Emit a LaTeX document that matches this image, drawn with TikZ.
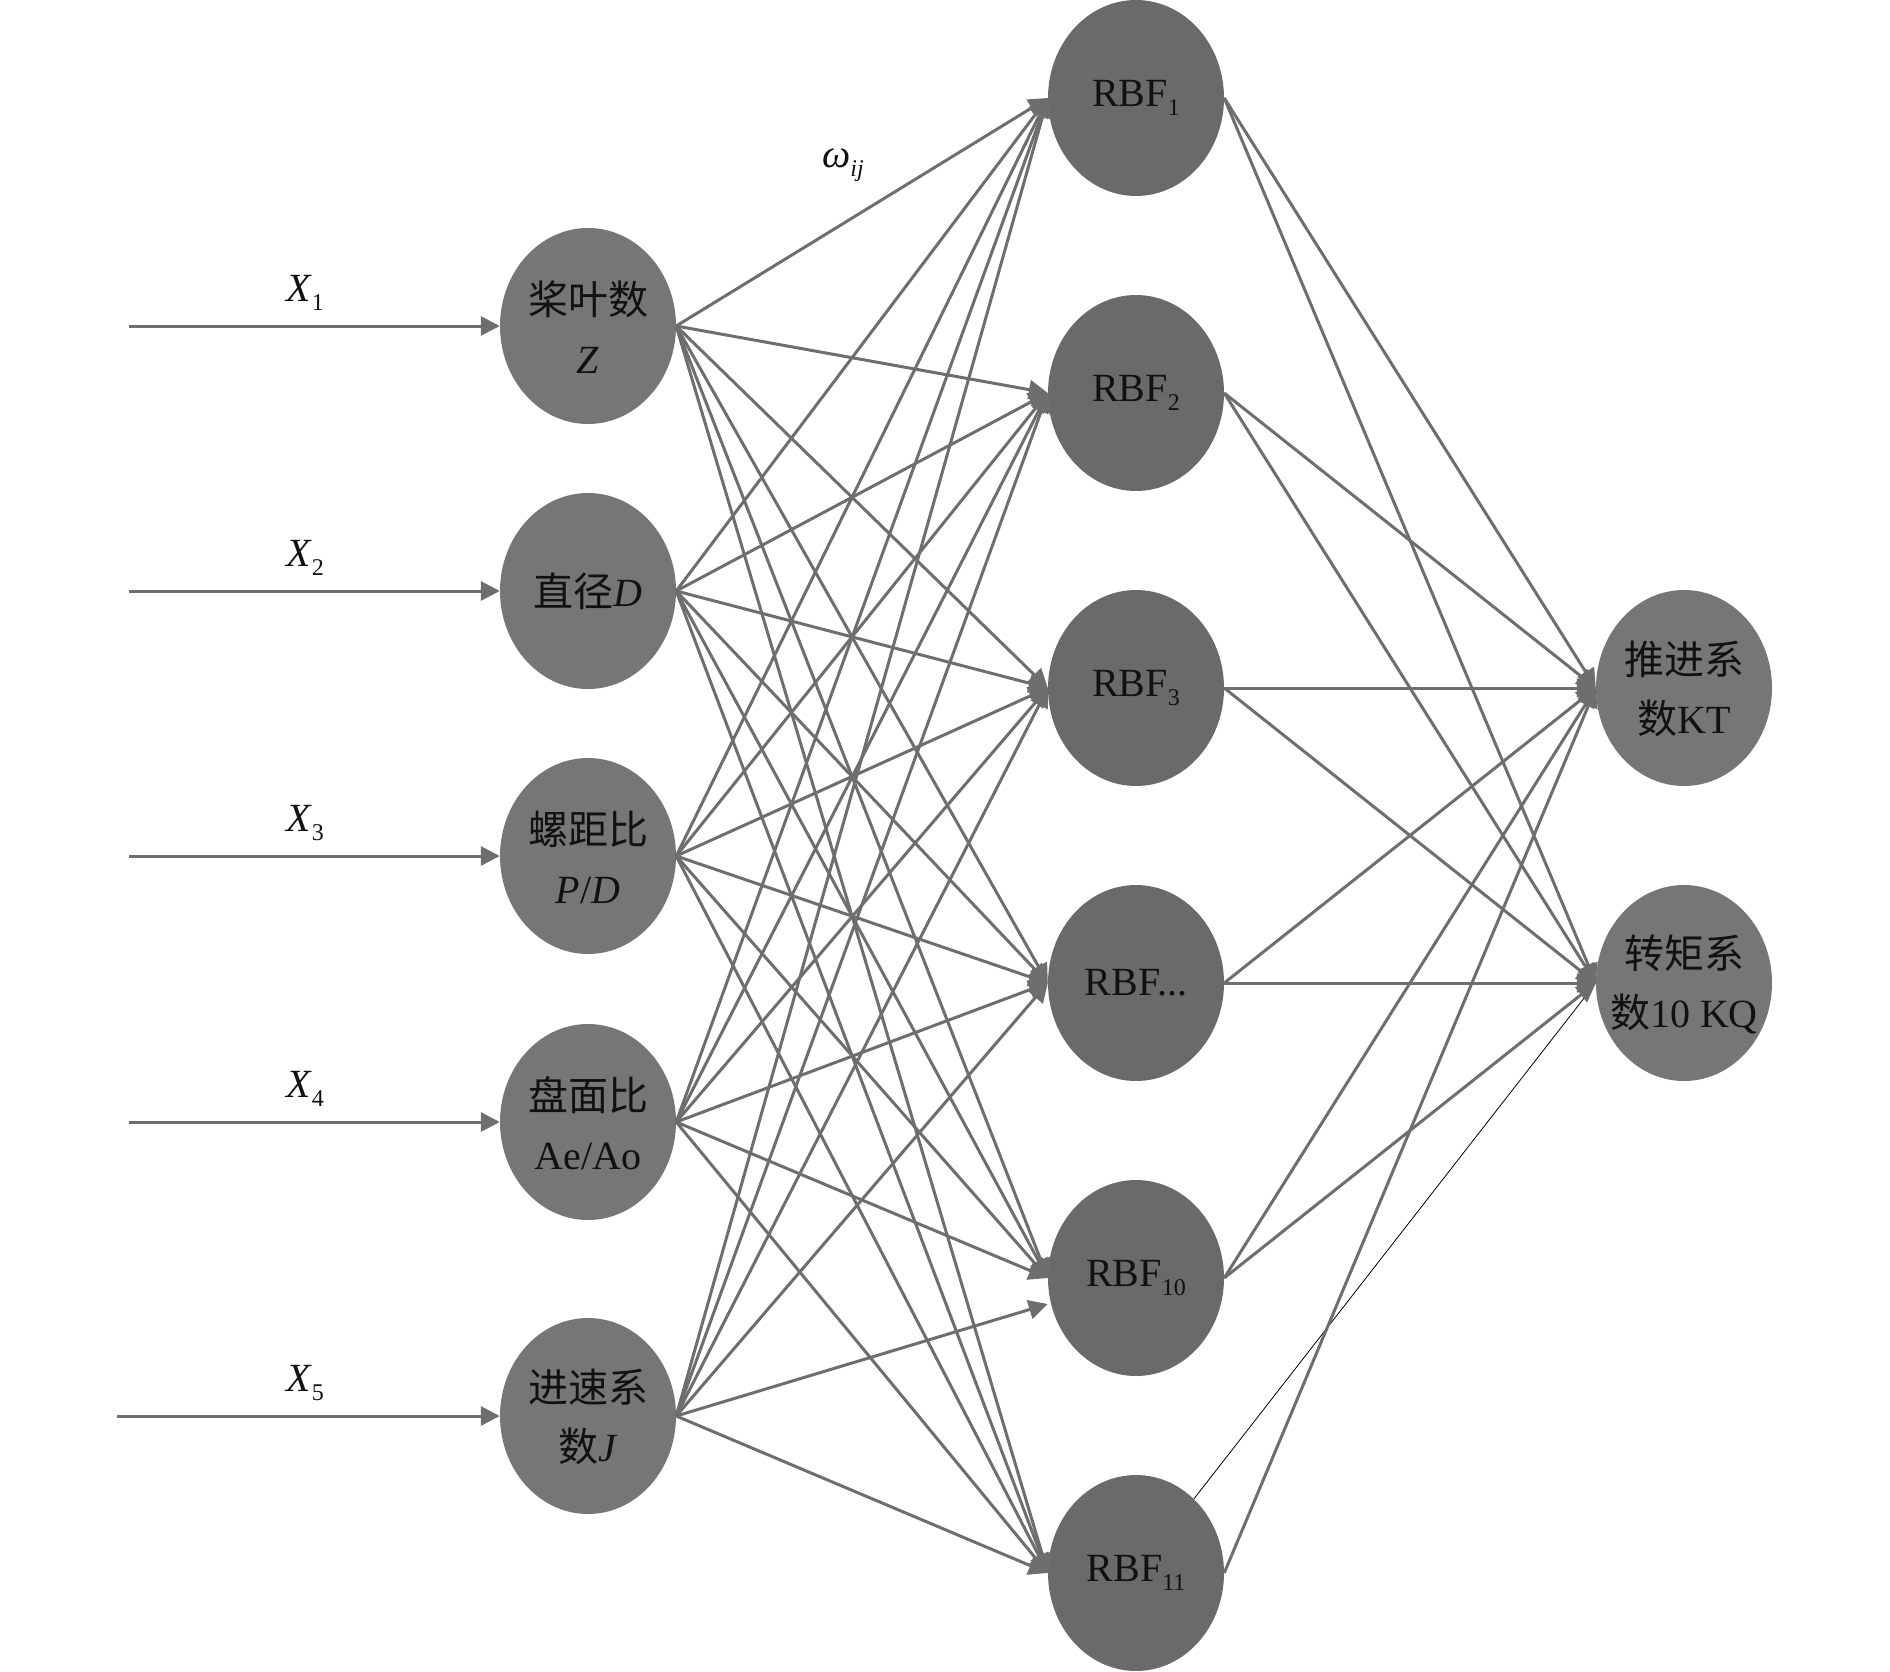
\documentclass[tikz,border=0pt]{standalone}
\usepackage{fontspec}
\setmainfont{Liberation Serif}
\newfontfamily\cjk{Noto Sans CJK SC}
\usetikzlibrary{shapes.geometric,arrows.meta}
\definecolor{hidfill}{HTML}{6A6A6A}
\definecolor{iofill}{HTML}{767676}
\definecolor{edgec}{HTML}{6E6E6E}
\definecolor{ink}{HTML}{111111}
\newcommand\subs[1]{\raisebox{-0.22em}{\fontsize{24}{24}\selectfont #1}}
\begin{document}
\begin{tikzpicture}[x=1pt,y=-1pt,
  neuron/.style={ellipse, minimum width=176pt, minimum height=196pt, inner sep=0pt, draw=none},
  innode/.style={neuron, fill=iofill},
  hidnode/.style={neuron, fill=hidfill},
  outnode/.style={neuron, fill=iofill},
  txt/.style={text=ink, align=center, font=\fontsize{40}{59}\selectfont, inner sep=0pt},
  conn/.style={draw=edgec, line width=3pt, -{Triangle[length=19pt,width=19pt]}},
  thinline/.style={draw=black, line width=0.8pt}
]
\useasboundingbox (0,0) rectangle (1890,1672);

% input nodes
\node[innode] (i1) at (588,326) {};
\node[innode] (i2) at (588,591) {};
\node[innode] (i3) at (588,856) {};
\node[innode] (i4) at (588,1122) {};
\node[innode] (i5) at (588,1416) {};

% hidden nodes
\foreach \j in {1,...,6} {
  \node[hidnode] (h\j) at (1136,{98+295*(\j-1)}) {};
}

% output nodes
\node[outnode] (o1) at (1684,688) {};
\node[outnode] (o2) at (1684,983) {};

% input arrows
\coordinate (s1) at (129,326);
\coordinate (s2) at (129,591);
\coordinate (s3) at (129,856);
\coordinate (s4) at (129,1122);
\coordinate (s5) at (117,1416);
\foreach \i in {1,...,5} { \draw[conn] (s\i) -- (i\i.west); }

% input -> hidden
\foreach \i in {1,...,4} {
  \foreach \j in {1,...,6} { \draw[conn] (i\i.east) -- (h\j.west); }
}
\foreach \j in {1,2,3,4,6} { \draw[conn] (i5.east) -- (h\j.west); }
\coordinate (h5in) at ([yshift=-26pt]h5.west);
\draw[conn] (i5.east) -- (h5in);

% hidden -> output
\draw[thinline] (h6.52) -- (o2.west);
\foreach \j in {1,...,6} { \draw[conn] (h\j.east) -- (o1.west); }
\foreach \j in {1,...,5} { \draw[conn] (h\j.east) -- (o2.west); }

% texts in nodes
\node[txt] (ti1) at (588,327) {{\cjk 桨叶数}\\\textit{Z}};
\node[txt] (ti2) at (588,591) {{\cjk 直径}\textit{D}};
\node[txt] (ti3) at (588,857) {{\cjk 螺距比}\\\textit{P}/\textit{D}};
\node[txt] (ti4) at (588,1123) {{\cjk 盘面比}\\Ae/Ao};
\node[txt] (ti5) at (588,1417) {{\cjk 进速系}\\{\cjk 数}\textit{J}};

\node[txt] (th1) at (1136,98) {RBF\subs{1}};
\node[txt] (th2) at (1136,393) {RBF\subs{2}};
\node[txt] (th3) at (1136,688) {RBF\subs{3}};
\node[txt] (th4) at (1136,983) {RBF...};
\node[txt] (th5) at (1136,1278) {RBF\subs{10}};
\node[txt] (th6) at (1136,1573) {RBF\subs{11}};

\node[txt] (to1) at (1684,689) {{\cjk 推进系}\\{\cjk 数}KT};
\node[txt] (to2) at (1684,984) {{\cjk 转矩系}\\{\cjk 数}10 KQ};

% labels
\node[txt] (x1) at (305,293) {\textit{X}\subs{1}};
\node[txt] (x2) at (305,558) {\textit{X}\subs{2}};
\node[txt] (x3) at (305,823) {\textit{X}\subs{3}};
\node[txt] (x4) at (305,1089) {\textit{X}\subs{4}};
\node[txt] (x5) at (305,1383) {\textit{X}\subs{5}};
\node[txt] (w) at (843,165) {\textit{ω}\subs{\textit{ij}}};
\end{tikzpicture}
\end{document}
